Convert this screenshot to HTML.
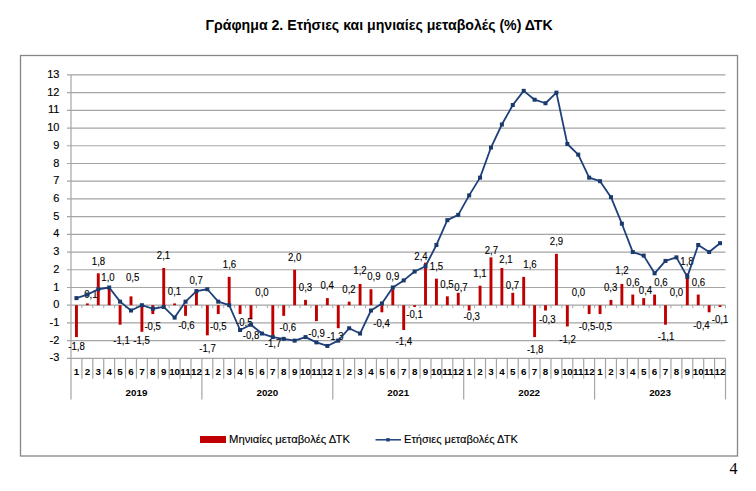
<!DOCTYPE html><html><head><meta charset="utf-8"><style>html,body{margin:0;padding:0;background:#fff;width:756px;height:491px;overflow:hidden}svg{display:block}text{font-family:"Liberation Sans",sans-serif}</style></head><body>
<svg width="756" height="491" viewBox="0 0 756 491">
<rect width="756" height="491" fill="#fff"/>
<text x="205.6" y="29.6" font-size="13.8" font-weight="bold" fill="#000" textLength="347" lengthAdjust="spacingAndGlyphs">Γράφημα 2. Ετήσιες και μηνιαίες μεταβολές (%) ΔΤΚ</text>
<rect x="20.5" y="55.5" width="717" height="400.5" fill="none" stroke="#868686" stroke-width="1.3"/>
<line x1="67" y1="358.34" x2="725.50" y2="358.34" stroke="#a5a5a5" stroke-width="1.2"/>
<text x="59.4" y="361.44" font-size="11" text-anchor="end" fill="#000" stroke="#000" stroke-width="0.15">-3</text>
<line x1="67" y1="340.63" x2="725.50" y2="340.63" stroke="#a5a5a5" stroke-width="1.2"/>
<text x="59.4" y="343.73" font-size="11" text-anchor="end" fill="#000" stroke="#000" stroke-width="0.15">-2</text>
<line x1="67" y1="322.91" x2="725.50" y2="322.91" stroke="#a5a5a5" stroke-width="1.2"/>
<text x="59.4" y="326.01" font-size="11" text-anchor="end" fill="#000" stroke="#000" stroke-width="0.15">-1</text>
<line x1="67" y1="305.20" x2="725.50" y2="305.20" stroke="#a5a5a5" stroke-width="1.2"/>
<text x="59.4" y="308.30" font-size="11" text-anchor="end" fill="#000" stroke="#000" stroke-width="0.15">0</text>
<line x1="67" y1="287.49" x2="725.50" y2="287.49" stroke="#a5a5a5" stroke-width="1.2"/>
<text x="59.4" y="290.59" font-size="11" text-anchor="end" fill="#000" stroke="#000" stroke-width="0.15">1</text>
<line x1="67" y1="269.77" x2="725.50" y2="269.77" stroke="#a5a5a5" stroke-width="1.2"/>
<text x="59.4" y="272.87" font-size="11" text-anchor="end" fill="#000" stroke="#000" stroke-width="0.15">2</text>
<line x1="67" y1="252.06" x2="725.50" y2="252.06" stroke="#a5a5a5" stroke-width="1.2"/>
<text x="59.4" y="255.16" font-size="11" text-anchor="end" fill="#000" stroke="#000" stroke-width="0.15">3</text>
<line x1="67" y1="234.34" x2="725.50" y2="234.34" stroke="#a5a5a5" stroke-width="1.2"/>
<text x="59.4" y="237.44" font-size="11" text-anchor="end" fill="#000" stroke="#000" stroke-width="0.15">4</text>
<line x1="67" y1="216.62" x2="725.50" y2="216.62" stroke="#a5a5a5" stroke-width="1.2"/>
<text x="59.4" y="219.72" font-size="11" text-anchor="end" fill="#000" stroke="#000" stroke-width="0.15">5</text>
<line x1="67" y1="198.91" x2="725.50" y2="198.91" stroke="#a5a5a5" stroke-width="1.2"/>
<text x="59.4" y="202.01" font-size="11" text-anchor="end" fill="#000" stroke="#000" stroke-width="0.15">6</text>
<line x1="67" y1="181.19" x2="725.50" y2="181.19" stroke="#a5a5a5" stroke-width="1.2"/>
<text x="59.4" y="184.29" font-size="11" text-anchor="end" fill="#000" stroke="#000" stroke-width="0.15">7</text>
<line x1="67" y1="163.48" x2="725.50" y2="163.48" stroke="#a5a5a5" stroke-width="1.2"/>
<text x="59.4" y="166.58" font-size="11" text-anchor="end" fill="#000" stroke="#000" stroke-width="0.15">8</text>
<line x1="67" y1="145.76" x2="725.50" y2="145.76" stroke="#a5a5a5" stroke-width="1.2"/>
<text x="59.4" y="148.86" font-size="11" text-anchor="end" fill="#000" stroke="#000" stroke-width="0.15">9</text>
<line x1="67" y1="128.05" x2="725.50" y2="128.05" stroke="#a5a5a5" stroke-width="1.2"/>
<text x="59.4" y="131.15" font-size="11" text-anchor="end" fill="#000" stroke="#000" stroke-width="0.15">10</text>
<line x1="67" y1="110.33" x2="725.50" y2="110.33" stroke="#a5a5a5" stroke-width="1.2"/>
<text x="59.4" y="113.43" font-size="11" text-anchor="end" fill="#000" stroke="#000" stroke-width="0.15">11</text>
<line x1="67" y1="92.62" x2="725.50" y2="92.62" stroke="#a5a5a5" stroke-width="1.2"/>
<text x="59.4" y="95.72" font-size="11" text-anchor="end" fill="#000" stroke="#000" stroke-width="0.15">12</text>
<line x1="67" y1="74.91" x2="725.50" y2="74.91" stroke="#a5a5a5" stroke-width="1.2"/>
<text x="59.4" y="78.00" font-size="11" text-anchor="end" fill="#000" stroke="#000" stroke-width="0.15">13</text>
<line x1="71.0" y1="74.91" x2="71.0" y2="399.4" stroke="#a5a5a5" stroke-width="1.2"/>
<line x1="81.91" y1="358.34" x2="81.91" y2="378.7" stroke="#a5a5a5" stroke-width="1.2"/>
<line x1="92.82" y1="358.34" x2="92.82" y2="378.7" stroke="#a5a5a5" stroke-width="1.2"/>
<line x1="103.72" y1="358.34" x2="103.72" y2="378.7" stroke="#a5a5a5" stroke-width="1.2"/>
<line x1="114.63" y1="358.34" x2="114.63" y2="378.7" stroke="#a5a5a5" stroke-width="1.2"/>
<line x1="125.54" y1="358.34" x2="125.54" y2="378.7" stroke="#a5a5a5" stroke-width="1.2"/>
<line x1="136.45" y1="358.34" x2="136.45" y2="378.7" stroke="#a5a5a5" stroke-width="1.2"/>
<line x1="147.36" y1="358.34" x2="147.36" y2="378.7" stroke="#a5a5a5" stroke-width="1.2"/>
<line x1="158.27" y1="358.34" x2="158.27" y2="378.7" stroke="#a5a5a5" stroke-width="1.2"/>
<line x1="169.18" y1="358.34" x2="169.18" y2="378.7" stroke="#a5a5a5" stroke-width="1.2"/>
<line x1="180.08" y1="358.34" x2="180.08" y2="378.7" stroke="#a5a5a5" stroke-width="1.2"/>
<line x1="190.99" y1="358.34" x2="190.99" y2="378.7" stroke="#a5a5a5" stroke-width="1.2"/>
<line x1="201.90" y1="358.34" x2="201.90" y2="399.4" stroke="#a5a5a5" stroke-width="1.2"/>
<line x1="212.81" y1="358.34" x2="212.81" y2="378.7" stroke="#a5a5a5" stroke-width="1.2"/>
<line x1="223.72" y1="358.34" x2="223.72" y2="378.7" stroke="#a5a5a5" stroke-width="1.2"/>
<line x1="234.62" y1="358.34" x2="234.62" y2="378.7" stroke="#a5a5a5" stroke-width="1.2"/>
<line x1="245.53" y1="358.34" x2="245.53" y2="378.7" stroke="#a5a5a5" stroke-width="1.2"/>
<line x1="256.44" y1="358.34" x2="256.44" y2="378.7" stroke="#a5a5a5" stroke-width="1.2"/>
<line x1="267.35" y1="358.34" x2="267.35" y2="378.7" stroke="#a5a5a5" stroke-width="1.2"/>
<line x1="278.26" y1="358.34" x2="278.26" y2="378.7" stroke="#a5a5a5" stroke-width="1.2"/>
<line x1="289.17" y1="358.34" x2="289.17" y2="378.7" stroke="#a5a5a5" stroke-width="1.2"/>
<line x1="300.07" y1="358.34" x2="300.07" y2="378.7" stroke="#a5a5a5" stroke-width="1.2"/>
<line x1="310.98" y1="358.34" x2="310.98" y2="378.7" stroke="#a5a5a5" stroke-width="1.2"/>
<line x1="321.89" y1="358.34" x2="321.89" y2="378.7" stroke="#a5a5a5" stroke-width="1.2"/>
<line x1="332.80" y1="358.34" x2="332.80" y2="399.4" stroke="#a5a5a5" stroke-width="1.2"/>
<line x1="343.71" y1="358.34" x2="343.71" y2="378.7" stroke="#a5a5a5" stroke-width="1.2"/>
<line x1="354.62" y1="358.34" x2="354.62" y2="378.7" stroke="#a5a5a5" stroke-width="1.2"/>
<line x1="365.52" y1="358.34" x2="365.52" y2="378.7" stroke="#a5a5a5" stroke-width="1.2"/>
<line x1="376.43" y1="358.34" x2="376.43" y2="378.7" stroke="#a5a5a5" stroke-width="1.2"/>
<line x1="387.34" y1="358.34" x2="387.34" y2="378.7" stroke="#a5a5a5" stroke-width="1.2"/>
<line x1="398.25" y1="358.34" x2="398.25" y2="378.7" stroke="#a5a5a5" stroke-width="1.2"/>
<line x1="409.16" y1="358.34" x2="409.16" y2="378.7" stroke="#a5a5a5" stroke-width="1.2"/>
<line x1="420.07" y1="358.34" x2="420.07" y2="378.7" stroke="#a5a5a5" stroke-width="1.2"/>
<line x1="430.98" y1="358.34" x2="430.98" y2="378.7" stroke="#a5a5a5" stroke-width="1.2"/>
<line x1="441.88" y1="358.34" x2="441.88" y2="378.7" stroke="#a5a5a5" stroke-width="1.2"/>
<line x1="452.79" y1="358.34" x2="452.79" y2="378.7" stroke="#a5a5a5" stroke-width="1.2"/>
<line x1="463.70" y1="358.34" x2="463.70" y2="399.4" stroke="#a5a5a5" stroke-width="1.2"/>
<line x1="474.61" y1="358.34" x2="474.61" y2="378.7" stroke="#a5a5a5" stroke-width="1.2"/>
<line x1="485.52" y1="358.34" x2="485.52" y2="378.7" stroke="#a5a5a5" stroke-width="1.2"/>
<line x1="496.43" y1="358.34" x2="496.43" y2="378.7" stroke="#a5a5a5" stroke-width="1.2"/>
<line x1="507.33" y1="358.34" x2="507.33" y2="378.7" stroke="#a5a5a5" stroke-width="1.2"/>
<line x1="518.24" y1="358.34" x2="518.24" y2="378.7" stroke="#a5a5a5" stroke-width="1.2"/>
<line x1="529.15" y1="358.34" x2="529.15" y2="378.7" stroke="#a5a5a5" stroke-width="1.2"/>
<line x1="540.06" y1="358.34" x2="540.06" y2="378.7" stroke="#a5a5a5" stroke-width="1.2"/>
<line x1="550.97" y1="358.34" x2="550.97" y2="378.7" stroke="#a5a5a5" stroke-width="1.2"/>
<line x1="561.88" y1="358.34" x2="561.88" y2="378.7" stroke="#a5a5a5" stroke-width="1.2"/>
<line x1="572.78" y1="358.34" x2="572.78" y2="378.7" stroke="#a5a5a5" stroke-width="1.2"/>
<line x1="583.69" y1="358.34" x2="583.69" y2="378.7" stroke="#a5a5a5" stroke-width="1.2"/>
<line x1="594.60" y1="358.34" x2="594.60" y2="399.4" stroke="#a5a5a5" stroke-width="1.2"/>
<line x1="605.51" y1="358.34" x2="605.51" y2="378.7" stroke="#a5a5a5" stroke-width="1.2"/>
<line x1="616.42" y1="358.34" x2="616.42" y2="378.7" stroke="#a5a5a5" stroke-width="1.2"/>
<line x1="627.33" y1="358.34" x2="627.33" y2="378.7" stroke="#a5a5a5" stroke-width="1.2"/>
<line x1="638.23" y1="358.34" x2="638.23" y2="378.7" stroke="#a5a5a5" stroke-width="1.2"/>
<line x1="649.14" y1="358.34" x2="649.14" y2="378.7" stroke="#a5a5a5" stroke-width="1.2"/>
<line x1="660.05" y1="358.34" x2="660.05" y2="378.7" stroke="#a5a5a5" stroke-width="1.2"/>
<line x1="670.96" y1="358.34" x2="670.96" y2="378.7" stroke="#a5a5a5" stroke-width="1.2"/>
<line x1="681.87" y1="358.34" x2="681.87" y2="378.7" stroke="#a5a5a5" stroke-width="1.2"/>
<line x1="692.77" y1="358.34" x2="692.77" y2="378.7" stroke="#a5a5a5" stroke-width="1.2"/>
<line x1="703.68" y1="358.34" x2="703.68" y2="378.7" stroke="#a5a5a5" stroke-width="1.2"/>
<line x1="714.59" y1="358.34" x2="714.59" y2="378.7" stroke="#a5a5a5" stroke-width="1.2"/>
<line x1="725.50" y1="358.34" x2="725.50" y2="399.4" stroke="#a5a5a5" stroke-width="1.2"/>
<line x1="81.91" y1="305.20" x2="81.91" y2="308.20" stroke="#a5a5a5" stroke-width="1"/>
<line x1="92.82" y1="305.20" x2="92.82" y2="308.20" stroke="#a5a5a5" stroke-width="1"/>
<line x1="103.72" y1="305.20" x2="103.72" y2="308.20" stroke="#a5a5a5" stroke-width="1"/>
<line x1="114.63" y1="305.20" x2="114.63" y2="308.20" stroke="#a5a5a5" stroke-width="1"/>
<line x1="125.54" y1="305.20" x2="125.54" y2="308.20" stroke="#a5a5a5" stroke-width="1"/>
<line x1="136.45" y1="305.20" x2="136.45" y2="308.20" stroke="#a5a5a5" stroke-width="1"/>
<line x1="147.36" y1="305.20" x2="147.36" y2="308.20" stroke="#a5a5a5" stroke-width="1"/>
<line x1="158.27" y1="305.20" x2="158.27" y2="308.20" stroke="#a5a5a5" stroke-width="1"/>
<line x1="169.18" y1="305.20" x2="169.18" y2="308.20" stroke="#a5a5a5" stroke-width="1"/>
<line x1="180.08" y1="305.20" x2="180.08" y2="308.20" stroke="#a5a5a5" stroke-width="1"/>
<line x1="190.99" y1="305.20" x2="190.99" y2="308.20" stroke="#a5a5a5" stroke-width="1"/>
<line x1="201.90" y1="305.20" x2="201.90" y2="308.20" stroke="#a5a5a5" stroke-width="1"/>
<line x1="212.81" y1="305.20" x2="212.81" y2="308.20" stroke="#a5a5a5" stroke-width="1"/>
<line x1="223.72" y1="305.20" x2="223.72" y2="308.20" stroke="#a5a5a5" stroke-width="1"/>
<line x1="234.62" y1="305.20" x2="234.62" y2="308.20" stroke="#a5a5a5" stroke-width="1"/>
<line x1="245.53" y1="305.20" x2="245.53" y2="308.20" stroke="#a5a5a5" stroke-width="1"/>
<line x1="256.44" y1="305.20" x2="256.44" y2="308.20" stroke="#a5a5a5" stroke-width="1"/>
<line x1="267.35" y1="305.20" x2="267.35" y2="308.20" stroke="#a5a5a5" stroke-width="1"/>
<line x1="278.26" y1="305.20" x2="278.26" y2="308.20" stroke="#a5a5a5" stroke-width="1"/>
<line x1="289.17" y1="305.20" x2="289.17" y2="308.20" stroke="#a5a5a5" stroke-width="1"/>
<line x1="300.07" y1="305.20" x2="300.07" y2="308.20" stroke="#a5a5a5" stroke-width="1"/>
<line x1="310.98" y1="305.20" x2="310.98" y2="308.20" stroke="#a5a5a5" stroke-width="1"/>
<line x1="321.89" y1="305.20" x2="321.89" y2="308.20" stroke="#a5a5a5" stroke-width="1"/>
<line x1="332.80" y1="305.20" x2="332.80" y2="308.20" stroke="#a5a5a5" stroke-width="1"/>
<line x1="343.71" y1="305.20" x2="343.71" y2="308.20" stroke="#a5a5a5" stroke-width="1"/>
<line x1="354.62" y1="305.20" x2="354.62" y2="308.20" stroke="#a5a5a5" stroke-width="1"/>
<line x1="365.52" y1="305.20" x2="365.52" y2="308.20" stroke="#a5a5a5" stroke-width="1"/>
<line x1="376.43" y1="305.20" x2="376.43" y2="308.20" stroke="#a5a5a5" stroke-width="1"/>
<line x1="387.34" y1="305.20" x2="387.34" y2="308.20" stroke="#a5a5a5" stroke-width="1"/>
<line x1="398.25" y1="305.20" x2="398.25" y2="308.20" stroke="#a5a5a5" stroke-width="1"/>
<line x1="409.16" y1="305.20" x2="409.16" y2="308.20" stroke="#a5a5a5" stroke-width="1"/>
<line x1="420.07" y1="305.20" x2="420.07" y2="308.20" stroke="#a5a5a5" stroke-width="1"/>
<line x1="430.98" y1="305.20" x2="430.98" y2="308.20" stroke="#a5a5a5" stroke-width="1"/>
<line x1="441.88" y1="305.20" x2="441.88" y2="308.20" stroke="#a5a5a5" stroke-width="1"/>
<line x1="452.79" y1="305.20" x2="452.79" y2="308.20" stroke="#a5a5a5" stroke-width="1"/>
<line x1="463.70" y1="305.20" x2="463.70" y2="308.20" stroke="#a5a5a5" stroke-width="1"/>
<line x1="474.61" y1="305.20" x2="474.61" y2="308.20" stroke="#a5a5a5" stroke-width="1"/>
<line x1="485.52" y1="305.20" x2="485.52" y2="308.20" stroke="#a5a5a5" stroke-width="1"/>
<line x1="496.43" y1="305.20" x2="496.43" y2="308.20" stroke="#a5a5a5" stroke-width="1"/>
<line x1="507.33" y1="305.20" x2="507.33" y2="308.20" stroke="#a5a5a5" stroke-width="1"/>
<line x1="518.24" y1="305.20" x2="518.24" y2="308.20" stroke="#a5a5a5" stroke-width="1"/>
<line x1="529.15" y1="305.20" x2="529.15" y2="308.20" stroke="#a5a5a5" stroke-width="1"/>
<line x1="540.06" y1="305.20" x2="540.06" y2="308.20" stroke="#a5a5a5" stroke-width="1"/>
<line x1="550.97" y1="305.20" x2="550.97" y2="308.20" stroke="#a5a5a5" stroke-width="1"/>
<line x1="561.88" y1="305.20" x2="561.88" y2="308.20" stroke="#a5a5a5" stroke-width="1"/>
<line x1="572.78" y1="305.20" x2="572.78" y2="308.20" stroke="#a5a5a5" stroke-width="1"/>
<line x1="583.69" y1="305.20" x2="583.69" y2="308.20" stroke="#a5a5a5" stroke-width="1"/>
<line x1="594.60" y1="305.20" x2="594.60" y2="308.20" stroke="#a5a5a5" stroke-width="1"/>
<line x1="605.51" y1="305.20" x2="605.51" y2="308.20" stroke="#a5a5a5" stroke-width="1"/>
<line x1="616.42" y1="305.20" x2="616.42" y2="308.20" stroke="#a5a5a5" stroke-width="1"/>
<line x1="627.33" y1="305.20" x2="627.33" y2="308.20" stroke="#a5a5a5" stroke-width="1"/>
<line x1="638.23" y1="305.20" x2="638.23" y2="308.20" stroke="#a5a5a5" stroke-width="1"/>
<line x1="649.14" y1="305.20" x2="649.14" y2="308.20" stroke="#a5a5a5" stroke-width="1"/>
<line x1="660.05" y1="305.20" x2="660.05" y2="308.20" stroke="#a5a5a5" stroke-width="1"/>
<line x1="670.96" y1="305.20" x2="670.96" y2="308.20" stroke="#a5a5a5" stroke-width="1"/>
<line x1="681.87" y1="305.20" x2="681.87" y2="308.20" stroke="#a5a5a5" stroke-width="1"/>
<line x1="692.77" y1="305.20" x2="692.77" y2="308.20" stroke="#a5a5a5" stroke-width="1"/>
<line x1="703.68" y1="305.20" x2="703.68" y2="308.20" stroke="#a5a5a5" stroke-width="1"/>
<line x1="714.59" y1="305.20" x2="714.59" y2="308.20" stroke="#a5a5a5" stroke-width="1"/>
<line x1="725.50" y1="305.20" x2="725.50" y2="308.20" stroke="#a5a5a5" stroke-width="1"/>
<text x="76.45" y="375" font-size="9.8" font-weight="bold" text-anchor="middle" fill="#000">1</text>
<text x="87.36" y="375" font-size="9.8" font-weight="bold" text-anchor="middle" fill="#000">2</text>
<text x="98.27" y="375" font-size="9.8" font-weight="bold" text-anchor="middle" fill="#000">3</text>
<text x="109.18" y="375" font-size="9.8" font-weight="bold" text-anchor="middle" fill="#000">4</text>
<text x="120.09" y="375" font-size="9.8" font-weight="bold" text-anchor="middle" fill="#000">5</text>
<text x="131.00" y="375" font-size="9.8" font-weight="bold" text-anchor="middle" fill="#000">6</text>
<text x="141.90" y="375" font-size="9.8" font-weight="bold" text-anchor="middle" fill="#000">7</text>
<text x="152.81" y="375" font-size="9.8" font-weight="bold" text-anchor="middle" fill="#000">8</text>
<text x="163.72" y="375" font-size="9.8" font-weight="bold" text-anchor="middle" fill="#000">9</text>
<text x="174.63" y="375" font-size="9.8" font-weight="bold" text-anchor="middle" fill="#000">10</text>
<text x="185.54" y="375" font-size="9.8" font-weight="bold" text-anchor="middle" fill="#000">11</text>
<text x="196.45" y="375" font-size="9.8" font-weight="bold" text-anchor="middle" fill="#000">12</text>
<text x="207.35" y="375" font-size="9.8" font-weight="bold" text-anchor="middle" fill="#000">1</text>
<text x="218.26" y="375" font-size="9.8" font-weight="bold" text-anchor="middle" fill="#000">2</text>
<text x="229.17" y="375" font-size="9.8" font-weight="bold" text-anchor="middle" fill="#000">3</text>
<text x="240.08" y="375" font-size="9.8" font-weight="bold" text-anchor="middle" fill="#000">4</text>
<text x="250.99" y="375" font-size="9.8" font-weight="bold" text-anchor="middle" fill="#000">5</text>
<text x="261.90" y="375" font-size="9.8" font-weight="bold" text-anchor="middle" fill="#000">6</text>
<text x="272.80" y="375" font-size="9.8" font-weight="bold" text-anchor="middle" fill="#000">7</text>
<text x="283.71" y="375" font-size="9.8" font-weight="bold" text-anchor="middle" fill="#000">8</text>
<text x="294.62" y="375" font-size="9.8" font-weight="bold" text-anchor="middle" fill="#000">9</text>
<text x="305.53" y="375" font-size="9.8" font-weight="bold" text-anchor="middle" fill="#000">10</text>
<text x="316.44" y="375" font-size="9.8" font-weight="bold" text-anchor="middle" fill="#000">11</text>
<text x="327.35" y="375" font-size="9.8" font-weight="bold" text-anchor="middle" fill="#000">12</text>
<text x="338.25" y="375" font-size="9.8" font-weight="bold" text-anchor="middle" fill="#000">1</text>
<text x="349.16" y="375" font-size="9.8" font-weight="bold" text-anchor="middle" fill="#000">2</text>
<text x="360.07" y="375" font-size="9.8" font-weight="bold" text-anchor="middle" fill="#000">3</text>
<text x="370.98" y="375" font-size="9.8" font-weight="bold" text-anchor="middle" fill="#000">4</text>
<text x="381.89" y="375" font-size="9.8" font-weight="bold" text-anchor="middle" fill="#000">5</text>
<text x="392.80" y="375" font-size="9.8" font-weight="bold" text-anchor="middle" fill="#000">6</text>
<text x="403.70" y="375" font-size="9.8" font-weight="bold" text-anchor="middle" fill="#000">7</text>
<text x="414.61" y="375" font-size="9.8" font-weight="bold" text-anchor="middle" fill="#000">8</text>
<text x="425.52" y="375" font-size="9.8" font-weight="bold" text-anchor="middle" fill="#000">9</text>
<text x="436.43" y="375" font-size="9.8" font-weight="bold" text-anchor="middle" fill="#000">10</text>
<text x="447.34" y="375" font-size="9.8" font-weight="bold" text-anchor="middle" fill="#000">11</text>
<text x="458.25" y="375" font-size="9.8" font-weight="bold" text-anchor="middle" fill="#000">12</text>
<text x="469.15" y="375" font-size="9.8" font-weight="bold" text-anchor="middle" fill="#000">1</text>
<text x="480.06" y="375" font-size="9.8" font-weight="bold" text-anchor="middle" fill="#000">2</text>
<text x="490.97" y="375" font-size="9.8" font-weight="bold" text-anchor="middle" fill="#000">3</text>
<text x="501.88" y="375" font-size="9.8" font-weight="bold" text-anchor="middle" fill="#000">4</text>
<text x="512.79" y="375" font-size="9.8" font-weight="bold" text-anchor="middle" fill="#000">5</text>
<text x="523.70" y="375" font-size="9.8" font-weight="bold" text-anchor="middle" fill="#000">6</text>
<text x="534.60" y="375" font-size="9.8" font-weight="bold" text-anchor="middle" fill="#000">7</text>
<text x="545.51" y="375" font-size="9.8" font-weight="bold" text-anchor="middle" fill="#000">8</text>
<text x="556.42" y="375" font-size="9.8" font-weight="bold" text-anchor="middle" fill="#000">9</text>
<text x="567.33" y="375" font-size="9.8" font-weight="bold" text-anchor="middle" fill="#000">10</text>
<text x="578.24" y="375" font-size="9.8" font-weight="bold" text-anchor="middle" fill="#000">11</text>
<text x="589.15" y="375" font-size="9.8" font-weight="bold" text-anchor="middle" fill="#000">12</text>
<text x="600.05" y="375" font-size="9.8" font-weight="bold" text-anchor="middle" fill="#000">1</text>
<text x="610.96" y="375" font-size="9.8" font-weight="bold" text-anchor="middle" fill="#000">2</text>
<text x="621.87" y="375" font-size="9.8" font-weight="bold" text-anchor="middle" fill="#000">3</text>
<text x="632.78" y="375" font-size="9.8" font-weight="bold" text-anchor="middle" fill="#000">4</text>
<text x="643.69" y="375" font-size="9.8" font-weight="bold" text-anchor="middle" fill="#000">5</text>
<text x="654.60" y="375" font-size="9.8" font-weight="bold" text-anchor="middle" fill="#000">6</text>
<text x="665.50" y="375" font-size="9.8" font-weight="bold" text-anchor="middle" fill="#000">7</text>
<text x="676.41" y="375" font-size="9.8" font-weight="bold" text-anchor="middle" fill="#000">8</text>
<text x="687.32" y="375" font-size="9.8" font-weight="bold" text-anchor="middle" fill="#000">9</text>
<text x="698.23" y="375" font-size="9.8" font-weight="bold" text-anchor="middle" fill="#000">10</text>
<text x="709.14" y="375" font-size="9.8" font-weight="bold" text-anchor="middle" fill="#000">11</text>
<text x="720.05" y="375" font-size="9.8" font-weight="bold" text-anchor="middle" fill="#000">12</text>
<text x="136.45" y="396" font-size="9.8" font-weight="bold" text-anchor="middle" fill="#000">2019</text>
<text x="267.35" y="396" font-size="9.8" font-weight="bold" text-anchor="middle" fill="#000">2020</text>
<text x="398.25" y="396" font-size="9.8" font-weight="bold" text-anchor="middle" fill="#000">2021</text>
<text x="529.15" y="396" font-size="9.8" font-weight="bold" text-anchor="middle" fill="#000">2022</text>
<text x="660.05" y="396" font-size="9.8" font-weight="bold" text-anchor="middle" fill="#000">2023</text>
<rect x="75.00" y="305.20" width="2.9" height="31.89" fill="#C00000"/>
<rect x="85.91" y="303.43" width="2.9" height="1.77" fill="#C00000"/>
<rect x="96.82" y="273.31" width="2.9" height="31.89" fill="#C00000"/>
<rect x="107.73" y="287.49" width="2.9" height="17.71" fill="#C00000"/>
<rect x="118.64" y="305.20" width="2.9" height="19.49" fill="#C00000"/>
<rect x="129.55" y="296.34" width="2.9" height="8.86" fill="#C00000"/>
<rect x="140.45" y="305.20" width="2.9" height="26.57" fill="#C00000"/>
<rect x="151.36" y="305.20" width="2.9" height="8.86" fill="#C00000"/>
<rect x="162.27" y="268.00" width="2.9" height="37.20" fill="#C00000"/>
<rect x="173.18" y="303.43" width="2.9" height="1.77" fill="#C00000"/>
<rect x="184.09" y="305.20" width="2.9" height="10.63" fill="#C00000"/>
<rect x="195.00" y="292.80" width="2.9" height="12.40" fill="#C00000"/>
<rect x="205.90" y="305.20" width="2.9" height="30.12" fill="#C00000"/>
<rect x="216.81" y="305.20" width="2.9" height="8.86" fill="#C00000"/>
<rect x="227.72" y="276.86" width="2.9" height="28.34" fill="#C00000"/>
<rect x="238.63" y="305.20" width="2.9" height="8.86" fill="#C00000"/>
<rect x="249.54" y="305.20" width="2.9" height="14.17" fill="#C00000"/>
<rect x="271.35" y="305.20" width="2.9" height="30.12" fill="#C00000"/>
<rect x="282.26" y="305.20" width="2.9" height="10.63" fill="#C00000"/>
<rect x="293.17" y="269.77" width="2.9" height="35.43" fill="#C00000"/>
<rect x="304.08" y="299.89" width="2.9" height="5.31" fill="#C00000"/>
<rect x="314.99" y="305.20" width="2.9" height="15.94" fill="#C00000"/>
<rect x="325.90" y="298.11" width="2.9" height="7.09" fill="#C00000"/>
<rect x="336.80" y="305.20" width="2.9" height="23.03" fill="#C00000"/>
<rect x="347.71" y="301.66" width="2.9" height="3.54" fill="#C00000"/>
<rect x="358.62" y="283.94" width="2.9" height="21.26" fill="#C00000"/>
<rect x="369.53" y="289.26" width="2.9" height="15.94" fill="#C00000"/>
<rect x="380.44" y="305.20" width="2.9" height="7.09" fill="#C00000"/>
<rect x="391.35" y="289.26" width="2.9" height="15.94" fill="#C00000"/>
<rect x="402.25" y="305.20" width="2.9" height="24.80" fill="#C00000"/>
<rect x="413.16" y="305.20" width="2.9" height="1.77" fill="#C00000"/>
<rect x="424.07" y="262.68" width="2.9" height="42.52" fill="#C00000"/>
<rect x="434.98" y="278.63" width="2.9" height="26.57" fill="#C00000"/>
<rect x="445.89" y="296.34" width="2.9" height="8.86" fill="#C00000"/>
<rect x="456.80" y="292.80" width="2.9" height="12.40" fill="#C00000"/>
<rect x="467.70" y="305.20" width="2.9" height="5.31" fill="#C00000"/>
<rect x="478.61" y="285.71" width="2.9" height="19.49" fill="#C00000"/>
<rect x="489.52" y="257.37" width="2.9" height="47.83" fill="#C00000"/>
<rect x="500.43" y="268.00" width="2.9" height="37.20" fill="#C00000"/>
<rect x="511.34" y="292.80" width="2.9" height="12.40" fill="#C00000"/>
<rect x="522.25" y="276.86" width="2.9" height="28.34" fill="#C00000"/>
<rect x="533.15" y="305.20" width="2.9" height="31.89" fill="#C00000"/>
<rect x="544.06" y="305.20" width="2.9" height="5.31" fill="#C00000"/>
<rect x="554.97" y="253.83" width="2.9" height="51.37" fill="#C00000"/>
<rect x="565.88" y="305.20" width="2.9" height="21.26" fill="#C00000"/>
<rect x="587.70" y="305.20" width="2.9" height="8.86" fill="#C00000"/>
<rect x="598.60" y="305.20" width="2.9" height="8.86" fill="#C00000"/>
<rect x="609.51" y="299.89" width="2.9" height="5.31" fill="#C00000"/>
<rect x="620.42" y="283.94" width="2.9" height="21.26" fill="#C00000"/>
<rect x="631.33" y="294.57" width="2.9" height="10.63" fill="#C00000"/>
<rect x="642.24" y="298.11" width="2.9" height="7.09" fill="#C00000"/>
<rect x="653.15" y="294.57" width="2.9" height="10.63" fill="#C00000"/>
<rect x="664.05" y="305.20" width="2.9" height="19.49" fill="#C00000"/>
<rect x="685.87" y="273.31" width="2.9" height="31.89" fill="#C00000"/>
<rect x="696.78" y="294.57" width="2.9" height="10.63" fill="#C00000"/>
<rect x="707.69" y="305.20" width="2.9" height="7.09" fill="#C00000"/>
<rect x="718.60" y="305.20" width="2.9" height="1.77" fill="#C00000"/>
<text x="76.50" y="350.10" font-size="10.0" text-anchor="middle" fill="#000" stroke="#000" stroke-width="0.12" textLength="16.54" lengthAdjust="spacingAndGlyphs">-1,8</text>
<text x="90.80" y="297.80" font-size="10.0" text-anchor="middle" fill="#000" stroke="#000" stroke-width="0.12" textLength="13.34" lengthAdjust="spacingAndGlyphs">0,1</text>
<text x="98.50" y="264.80" font-size="10.0" text-anchor="middle" fill="#000" stroke="#000" stroke-width="0.12" textLength="13.34" lengthAdjust="spacingAndGlyphs">1,8</text>
<text x="108.00" y="281.40" font-size="10.0" text-anchor="middle" fill="#000" stroke="#000" stroke-width="0.12" textLength="13.34" lengthAdjust="spacingAndGlyphs">1,0</text>
<text x="121.60" y="343.80" font-size="10.0" text-anchor="middle" fill="#000" stroke="#000" stroke-width="0.12" textLength="16.54" lengthAdjust="spacingAndGlyphs">-1,1</text>
<text x="132.70" y="280.90" font-size="10.0" text-anchor="middle" fill="#000" stroke="#000" stroke-width="0.12" textLength="13.34" lengthAdjust="spacingAndGlyphs">0,5</text>
<text x="141.60" y="343.80" font-size="10.0" text-anchor="middle" fill="#000" stroke="#000" stroke-width="0.12" textLength="16.54" lengthAdjust="spacingAndGlyphs">-1,5</text>
<text x="152.70" y="329.80" font-size="10.0" text-anchor="middle" fill="#000" stroke="#000" stroke-width="0.12" textLength="16.54" lengthAdjust="spacingAndGlyphs">-0,5</text>
<text x="163.50" y="258.80" font-size="10.0" text-anchor="middle" fill="#000" stroke="#000" stroke-width="0.12" textLength="13.34" lengthAdjust="spacingAndGlyphs">2,1</text>
<text x="174.50" y="295.10" font-size="10.0" text-anchor="middle" fill="#000" stroke="#000" stroke-width="0.12" textLength="13.34" lengthAdjust="spacingAndGlyphs">0,1</text>
<text x="186.40" y="329.30" font-size="10.0" text-anchor="middle" fill="#000" stroke="#000" stroke-width="0.12" textLength="16.54" lengthAdjust="spacingAndGlyphs">-0,6</text>
<text x="196.20" y="283.80" font-size="10.0" text-anchor="middle" fill="#000" stroke="#000" stroke-width="0.12" textLength="13.34" lengthAdjust="spacingAndGlyphs">0,7</text>
<text x="207.50" y="352.40" font-size="10.0" text-anchor="middle" fill="#000" stroke="#000" stroke-width="0.12" textLength="16.54" lengthAdjust="spacingAndGlyphs">-1,7</text>
<text x="218.30" y="329.80" font-size="10.0" text-anchor="middle" fill="#000" stroke="#000" stroke-width="0.12" textLength="16.54" lengthAdjust="spacingAndGlyphs">-0,5</text>
<text x="229.50" y="267.80" font-size="10.0" text-anchor="middle" fill="#000" stroke="#000" stroke-width="0.12" textLength="13.34" lengthAdjust="spacingAndGlyphs">1,6</text>
<text x="244.30" y="325.60" font-size="10.0" text-anchor="middle" fill="#000" stroke="#000" stroke-width="0.12" textLength="16.54" lengthAdjust="spacingAndGlyphs">-0,5</text>
<text x="251.00" y="339.00" font-size="10.0" text-anchor="middle" fill="#000" stroke="#000" stroke-width="0.12" textLength="16.54" lengthAdjust="spacingAndGlyphs">-0,8</text>
<text x="262.00" y="295.80" font-size="10.0" text-anchor="middle" fill="#000" stroke="#000" stroke-width="0.12" textLength="13.34" lengthAdjust="spacingAndGlyphs">0,0</text>
<text x="273.00" y="346.70" font-size="10.0" text-anchor="middle" fill="#000" stroke="#000" stroke-width="0.12" textLength="16.54" lengthAdjust="spacingAndGlyphs">-1,7</text>
<text x="287.80" y="331.40" font-size="10.0" text-anchor="middle" fill="#000" stroke="#000" stroke-width="0.12" textLength="16.54" lengthAdjust="spacingAndGlyphs">-0,6</text>
<text x="294.70" y="261.20" font-size="10.0" text-anchor="middle" fill="#000" stroke="#000" stroke-width="0.12" textLength="13.34" lengthAdjust="spacingAndGlyphs">2,0</text>
<text x="305.50" y="290.80" font-size="10.0" text-anchor="middle" fill="#000" stroke="#000" stroke-width="0.12" textLength="13.34" lengthAdjust="spacingAndGlyphs">0,3</text>
<text x="316.50" y="337.20" font-size="10.0" text-anchor="middle" fill="#000" stroke="#000" stroke-width="0.12" textLength="16.54" lengthAdjust="spacingAndGlyphs">-0,9</text>
<text x="327.20" y="289.20" font-size="10.0" text-anchor="middle" fill="#000" stroke="#000" stroke-width="0.12" textLength="13.34" lengthAdjust="spacingAndGlyphs">0,4</text>
<text x="335.30" y="339.60" font-size="10.0" text-anchor="middle" fill="#000" stroke="#000" stroke-width="0.12" textLength="16.54" lengthAdjust="spacingAndGlyphs">-1,3</text>
<text x="349.00" y="292.80" font-size="10.0" text-anchor="middle" fill="#000" stroke="#000" stroke-width="0.12" textLength="13.34" lengthAdjust="spacingAndGlyphs">0,2</text>
<text x="360.00" y="274.10" font-size="10.0" text-anchor="middle" fill="#000" stroke="#000" stroke-width="0.12" textLength="13.34" lengthAdjust="spacingAndGlyphs">1,2</text>
<text x="373.80" y="279.80" font-size="10.0" text-anchor="middle" fill="#000" stroke="#000" stroke-width="0.12" textLength="13.34" lengthAdjust="spacingAndGlyphs">0,9</text>
<text x="381.60" y="326.80" font-size="10.0" text-anchor="middle" fill="#000" stroke="#000" stroke-width="0.12" textLength="16.54" lengthAdjust="spacingAndGlyphs">-0,4</text>
<text x="392.70" y="279.80" font-size="10.0" text-anchor="middle" fill="#000" stroke="#000" stroke-width="0.12" textLength="13.34" lengthAdjust="spacingAndGlyphs">0,9</text>
<text x="403.80" y="345.10" font-size="10.0" text-anchor="middle" fill="#000" stroke="#000" stroke-width="0.12" textLength="16.54" lengthAdjust="spacingAndGlyphs">-1,4</text>
<text x="414.50" y="317.80" font-size="10.0" text-anchor="middle" fill="#000" stroke="#000" stroke-width="0.12" textLength="16.54" lengthAdjust="spacingAndGlyphs">-0,1</text>
<text x="421.00" y="259.80" font-size="10.0" text-anchor="middle" fill="#000" stroke="#000" stroke-width="0.12" textLength="13.34" lengthAdjust="spacingAndGlyphs">2,4</text>
<text x="436.50" y="270.10" font-size="10.0" text-anchor="middle" fill="#000" stroke="#000" stroke-width="0.12" textLength="13.34" lengthAdjust="spacingAndGlyphs">1,5</text>
<text x="447.00" y="287.80" font-size="10.0" text-anchor="middle" fill="#000" stroke="#000" stroke-width="0.12" textLength="13.34" lengthAdjust="spacingAndGlyphs">0,5</text>
<text x="461.00" y="290.80" font-size="10.0" text-anchor="middle" fill="#000" stroke="#000" stroke-width="0.12" textLength="13.34" lengthAdjust="spacingAndGlyphs">0,7</text>
<text x="471.70" y="319.80" font-size="10.0" text-anchor="middle" fill="#000" stroke="#000" stroke-width="0.12" textLength="16.54" lengthAdjust="spacingAndGlyphs">-0,3</text>
<text x="480.00" y="276.80" font-size="10.0" text-anchor="middle" fill="#000" stroke="#000" stroke-width="0.12" textLength="13.34" lengthAdjust="spacingAndGlyphs">1,1</text>
<text x="491.40" y="253.50" font-size="10.0" text-anchor="middle" fill="#000" stroke="#000" stroke-width="0.12" textLength="13.34" lengthAdjust="spacingAndGlyphs">2,7</text>
<text x="506.00" y="262.80" font-size="10.0" text-anchor="middle" fill="#000" stroke="#000" stroke-width="0.12" textLength="13.34" lengthAdjust="spacingAndGlyphs">2,1</text>
<text x="512.50" y="288.60" font-size="10.0" text-anchor="middle" fill="#000" stroke="#000" stroke-width="0.12" textLength="13.34" lengthAdjust="spacingAndGlyphs">0,7</text>
<text x="530.00" y="268.30" font-size="10.0" text-anchor="middle" fill="#000" stroke="#000" stroke-width="0.12" textLength="13.34" lengthAdjust="spacingAndGlyphs">1,6</text>
<text x="535.20" y="352.80" font-size="10.0" text-anchor="middle" fill="#000" stroke="#000" stroke-width="0.12" textLength="16.54" lengthAdjust="spacingAndGlyphs">-1,8</text>
<text x="547.30" y="323.30" font-size="10.0" text-anchor="middle" fill="#000" stroke="#000" stroke-width="0.12" textLength="16.54" lengthAdjust="spacingAndGlyphs">-0,3</text>
<text x="556.50" y="244.80" font-size="10.0" text-anchor="middle" fill="#000" stroke="#000" stroke-width="0.12" textLength="13.34" lengthAdjust="spacingAndGlyphs">2,9</text>
<text x="567.60" y="343.10" font-size="10.0" text-anchor="middle" fill="#000" stroke="#000" stroke-width="0.12" textLength="16.54" lengthAdjust="spacingAndGlyphs">-1,2</text>
<text x="578.40" y="295.60" font-size="10.0" text-anchor="middle" fill="#000" stroke="#000" stroke-width="0.12" textLength="13.34" lengthAdjust="spacingAndGlyphs">0,0</text>
<text x="587.00" y="329.80" font-size="10.0" text-anchor="middle" fill="#000" stroke="#000" stroke-width="0.12" textLength="16.54" lengthAdjust="spacingAndGlyphs">-0,5</text>
<text x="603.80" y="330.10" font-size="10.0" text-anchor="middle" fill="#000" stroke="#000" stroke-width="0.12" textLength="16.54" lengthAdjust="spacingAndGlyphs">-0,5</text>
<text x="610.70" y="290.60" font-size="10.0" text-anchor="middle" fill="#000" stroke="#000" stroke-width="0.12" textLength="13.34" lengthAdjust="spacingAndGlyphs">0,3</text>
<text x="622.00" y="274.10" font-size="10.0" text-anchor="middle" fill="#000" stroke="#000" stroke-width="0.12" textLength="13.34" lengthAdjust="spacingAndGlyphs">1,2</text>
<text x="633.00" y="285.50" font-size="10.0" text-anchor="middle" fill="#000" stroke="#000" stroke-width="0.12" textLength="13.34" lengthAdjust="spacingAndGlyphs">0,6</text>
<text x="645.50" y="293.80" font-size="10.0" text-anchor="middle" fill="#000" stroke="#000" stroke-width="0.12" textLength="13.34" lengthAdjust="spacingAndGlyphs">0,4</text>
<text x="661.00" y="286.40" font-size="10.0" text-anchor="middle" fill="#000" stroke="#000" stroke-width="0.12" textLength="13.34" lengthAdjust="spacingAndGlyphs">0,6</text>
<text x="666.00" y="340.10" font-size="10.0" text-anchor="middle" fill="#000" stroke="#000" stroke-width="0.12" textLength="16.54" lengthAdjust="spacingAndGlyphs">-1,1</text>
<text x="676.50" y="295.80" font-size="10.0" text-anchor="middle" fill="#000" stroke="#000" stroke-width="0.12" textLength="13.34" lengthAdjust="spacingAndGlyphs">0,0</text>
<text x="687.00" y="264.80" font-size="10.0" text-anchor="middle" fill="#000" stroke="#000" stroke-width="0.12" textLength="13.34" lengthAdjust="spacingAndGlyphs">1,8</text>
<text x="698.50" y="286.20" font-size="10.0" text-anchor="middle" fill="#000" stroke="#000" stroke-width="0.12" textLength="13.34" lengthAdjust="spacingAndGlyphs">0,6</text>
<text x="701.40" y="329.10" font-size="10.0" text-anchor="middle" fill="#000" stroke="#000" stroke-width="0.12" textLength="16.54" lengthAdjust="spacingAndGlyphs">-0,4</text>
<text x="720.00" y="322.50" font-size="10.0" text-anchor="middle" fill="#000" stroke="#000" stroke-width="0.12" textLength="16.54" lengthAdjust="spacingAndGlyphs">-0,1</text>
<polyline points="76.45,298.11 87.36,294.57 98.27,289.26 109.18,287.49 120.09,301.66 131.00,310.51 141.90,305.20 152.81,308.74 163.72,306.97 174.63,317.60 185.54,301.66 196.45,291.03 207.35,289.26 218.26,301.66 229.17,305.20 240.08,330.00 250.99,324.69 261.90,333.54 272.80,337.09 283.71,338.86 294.62,340.63 305.53,337.09 316.44,342.40 327.35,345.94 338.25,340.63 349.16,328.23 360.07,333.54 370.98,310.51 381.89,303.43 392.80,287.49 403.70,280.40 414.61,271.54 425.52,266.23 436.43,244.97 447.34,220.17 458.25,214.85 469.15,195.37 480.06,177.65 490.97,147.54 501.88,124.51 512.79,105.02 523.70,90.85 534.60,99.71 545.51,103.25 556.42,92.62 567.33,143.99 578.24,154.62 589.15,177.65 600.05,181.19 610.96,197.14 621.87,223.71 632.78,252.06 643.69,255.60 654.60,273.31 665.50,260.91 676.41,257.37 687.32,276.86 698.23,244.97 709.14,252.06 720.05,243.20" fill="none" stroke="#1F407A" stroke-width="1.8" stroke-linejoin="round"/>
<rect x="74.45" y="296.11" width="4" height="4" fill="#1A3A6C"/>
<rect x="85.36" y="292.57" width="4" height="4" fill="#1A3A6C"/>
<rect x="96.27" y="287.26" width="4" height="4" fill="#1A3A6C"/>
<rect x="107.18" y="285.49" width="4" height="4" fill="#1A3A6C"/>
<rect x="118.09" y="299.66" width="4" height="4" fill="#1A3A6C"/>
<rect x="129.00" y="308.51" width="4" height="4" fill="#1A3A6C"/>
<rect x="139.90" y="303.20" width="4" height="4" fill="#1A3A6C"/>
<rect x="150.81" y="306.74" width="4" height="4" fill="#1A3A6C"/>
<rect x="161.72" y="304.97" width="4" height="4" fill="#1A3A6C"/>
<rect x="172.63" y="315.60" width="4" height="4" fill="#1A3A6C"/>
<rect x="183.54" y="299.66" width="4" height="4" fill="#1A3A6C"/>
<rect x="194.45" y="289.03" width="4" height="4" fill="#1A3A6C"/>
<rect x="205.35" y="287.26" width="4" height="4" fill="#1A3A6C"/>
<rect x="216.26" y="299.66" width="4" height="4" fill="#1A3A6C"/>
<rect x="227.17" y="303.20" width="4" height="4" fill="#1A3A6C"/>
<rect x="238.08" y="328.00" width="4" height="4" fill="#1A3A6C"/>
<rect x="248.99" y="322.69" width="4" height="4" fill="#1A3A6C"/>
<rect x="259.90" y="331.54" width="4" height="4" fill="#1A3A6C"/>
<rect x="270.80" y="335.09" width="4" height="4" fill="#1A3A6C"/>
<rect x="281.71" y="336.86" width="4" height="4" fill="#1A3A6C"/>
<rect x="292.62" y="338.63" width="4" height="4" fill="#1A3A6C"/>
<rect x="303.53" y="335.09" width="4" height="4" fill="#1A3A6C"/>
<rect x="314.44" y="340.40" width="4" height="4" fill="#1A3A6C"/>
<rect x="325.35" y="343.94" width="4" height="4" fill="#1A3A6C"/>
<rect x="336.25" y="338.63" width="4" height="4" fill="#1A3A6C"/>
<rect x="347.16" y="326.23" width="4" height="4" fill="#1A3A6C"/>
<rect x="358.07" y="331.54" width="4" height="4" fill="#1A3A6C"/>
<rect x="368.98" y="308.51" width="4" height="4" fill="#1A3A6C"/>
<rect x="379.89" y="301.43" width="4" height="4" fill="#1A3A6C"/>
<rect x="390.80" y="285.49" width="4" height="4" fill="#1A3A6C"/>
<rect x="401.70" y="278.40" width="4" height="4" fill="#1A3A6C"/>
<rect x="412.61" y="269.54" width="4" height="4" fill="#1A3A6C"/>
<rect x="423.52" y="264.23" width="4" height="4" fill="#1A3A6C"/>
<rect x="434.43" y="242.97" width="4" height="4" fill="#1A3A6C"/>
<rect x="445.34" y="218.17" width="4" height="4" fill="#1A3A6C"/>
<rect x="456.25" y="212.85" width="4" height="4" fill="#1A3A6C"/>
<rect x="467.15" y="193.37" width="4" height="4" fill="#1A3A6C"/>
<rect x="478.06" y="175.65" width="4" height="4" fill="#1A3A6C"/>
<rect x="488.97" y="145.54" width="4" height="4" fill="#1A3A6C"/>
<rect x="499.88" y="122.51" width="4" height="4" fill="#1A3A6C"/>
<rect x="510.79" y="103.02" width="4" height="4" fill="#1A3A6C"/>
<rect x="521.70" y="88.85" width="4" height="4" fill="#1A3A6C"/>
<rect x="532.60" y="97.71" width="4" height="4" fill="#1A3A6C"/>
<rect x="543.51" y="101.25" width="4" height="4" fill="#1A3A6C"/>
<rect x="554.42" y="90.62" width="4" height="4" fill="#1A3A6C"/>
<rect x="565.33" y="141.99" width="4" height="4" fill="#1A3A6C"/>
<rect x="576.24" y="152.62" width="4" height="4" fill="#1A3A6C"/>
<rect x="587.15" y="175.65" width="4" height="4" fill="#1A3A6C"/>
<rect x="598.05" y="179.19" width="4" height="4" fill="#1A3A6C"/>
<rect x="608.96" y="195.14" width="4" height="4" fill="#1A3A6C"/>
<rect x="619.87" y="221.71" width="4" height="4" fill="#1A3A6C"/>
<rect x="630.78" y="250.06" width="4" height="4" fill="#1A3A6C"/>
<rect x="641.69" y="253.60" width="4" height="4" fill="#1A3A6C"/>
<rect x="652.60" y="271.31" width="4" height="4" fill="#1A3A6C"/>
<rect x="663.50" y="258.91" width="4" height="4" fill="#1A3A6C"/>
<rect x="674.41" y="255.37" width="4" height="4" fill="#1A3A6C"/>
<rect x="685.32" y="274.86" width="4" height="4" fill="#1A3A6C"/>
<rect x="696.23" y="242.97" width="4" height="4" fill="#1A3A6C"/>
<rect x="707.14" y="250.06" width="4" height="4" fill="#1A3A6C"/>
<rect x="718.05" y="241.20" width="4" height="4" fill="#1A3A6C"/>
<rect x="200" y="436" width="26" height="7" fill="#C00000"/>
<text x="229" y="443" font-size="10.3" fill="#000" stroke="#000" stroke-width="0.12" textLength="121" lengthAdjust="spacingAndGlyphs">Μηνιαίες μεταβολές ΔΤΚ</text>
<line x1="375.5" y1="439.8" x2="401" y2="439.8" stroke="#1F407A" stroke-width="1.5"/>
<rect x="386.3" y="438.1" width="3.4" height="3.4" fill="#1F407A"/>
<text x="404" y="443" font-size="10.3" fill="#000" stroke="#000" stroke-width="0.12" textLength="114" lengthAdjust="spacingAndGlyphs">Ετήσιες μεταβολές ΔΤΚ</text>
<text x="729.5" y="473.8" font-size="16" fill="#000" font-family="Liberation Serif" style="font-family:'Liberation Serif',serif">4</text>
</svg></body></html>
